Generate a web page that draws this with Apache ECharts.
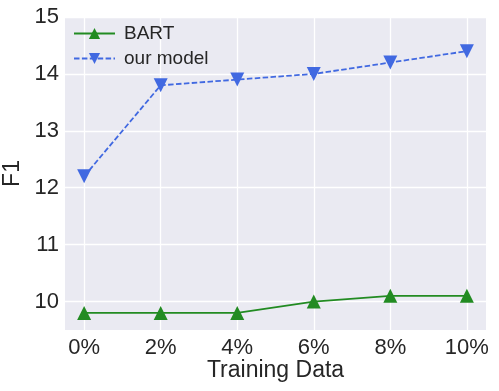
<!DOCTYPE html>
<html>
<head>
<meta charset="utf-8">
<script src="https://cdn.jsdelivr.net/npm/echarts@6/dist/echarts.min.js"></script>
<style>
  html, body { margin: 0; padding: 0; background: #fff; }
  #chart { width: 499px; height: 391px; }
</style>
</head>
<body>
<div id="chart"></div>
<script>
  // 训练数据比例 (%)
  var trainingPct = [0, 2, 4, 6, 8, 10]
  var bartF1 = [9.8, 9.8, 9.8, 10.0, 10.1, 10.1]
  var ourModelF1 = [12.2, 13.8, 13.9, 14.0, 14.2, 14.4]
  var yTicks = [10, 11, 12, 13, 14, 15]

  function pairs (xs, ys) {
    return xs.map(function (x, i) { return [x, ys[i]] })
  }

  var textColor = '#262626'
  var font = 'Arial, "Liberation Sans", sans-serif'

  var option = {
    backgroundColor: '#ffffff',
    animation: false,
    grid: {
      left: 65, right: 13, top: 17, bottom: 61,
      outerBoundsMode: 'none',
      backgroundColor: '#EAEAF2', show: true, borderWidth: 0
    },
    legend: {
      left: 68,
      top: 19,
      orient: 'vertical',
      itemWidth: 41,
      itemHeight: 14,
      itemGap: 6,
      textStyle: { fontSize: 19, color: textColor, fontFamily: font, padding: [0, 0, 0, 4] },
      data: ['BART', 'our model']
    },
    xAxis: {
      type: 'value',
      min: -0.5,
      max: 10.5,
      name: 'Training Data',
      nameLocation: 'middle',
      nameGap: 29,
      nameMoveOverlap: false,
      nameTextStyle: { fontSize: 23, color: textColor, fontFamily: font },
      axisLine: { show: false },
      axisTick: { show: false, customValues: trainingPct },
      axisLabel: { customValues: trainingPct, formatter: '{value}%', fontSize: 22, color: textColor, fontFamily: font, margin: 7 },
      splitLine: { show: true, lineStyle: { color: '#ffffff', width: 1.3 } }
    },
    yAxis: {
      type: 'value',
      min: 9.5,
      max: 15,
      name: 'F1',
      nameLocation: 'middle',
      nameGap: 41,
      nameMoveOverlap: false,
      nameTextStyle: { fontSize: 23, color: textColor, fontFamily: font },
      axisLine: { show: false },
      axisTick: { show: false, customValues: yTicks },
      axisLabel: { customValues: yTicks, fontSize: 22, color: textColor, fontFamily: font, margin: 6 },
      splitLine: { show: true, lineStyle: { color: '#ffffff', width: 1.3 } }
    },
    series: [
      {
        name: 'BART',
        type: 'line',
        data: pairs(trainingPct, bartF1),
        symbol: 'triangle',
        symbolSize: 14,
        color: '#228B22',
        lineStyle: { width: 1.8, color: '#228B22' },
        itemStyle: { color: '#228B22' }
      },
      {
        name: 'our model',
        type: 'line',
        data: pairs(trainingPct, ourModelF1),
        symbol: 'triangle',
        symbolRotate: 180,
        symbolSize: 14,
        color: '#4169E1',
        lineStyle: { width: 1.8, type: [5.5, 2.4], color: '#4169E1' },
        itemStyle: { color: '#4169E1' }
      }
    ]
  }

  var chart = echarts.init(document.getElementById('chart'))
  chart.setOption(option)
</script>
</body>
</html>
